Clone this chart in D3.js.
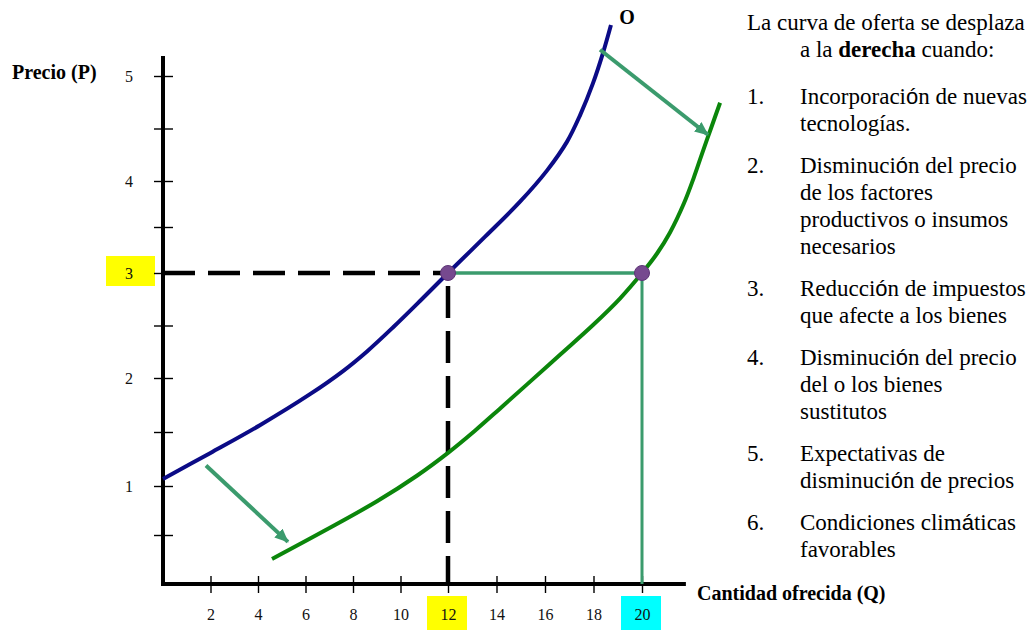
<!DOCTYPE html>
<html><head><meta charset="utf-8">
<script src="https://cdn.jsdelivr.net/npm/d3@7"></script>
<style>body{margin:0;background:#fff}svg{display:block}</style>
</head><body><svg id="c" width="1034" height="634"></svg>
<script>
// ---- data ----
const xTicks = [2,4,6,8,10,12,14,16,18,20];
const yTicks = [0.5,1,1.5,2,2.5,3,3.5,4,4.5,5];
const yLabels = [1,2,3,4,5];
const blueQ = [0,1.98,4.08,6.19,7.58,8.59,9.68,10.82,12,13.53,14.97,16.08,16.91,17.44,17.98,18.39,18.72];
const blueP = [1.065,1.304,1.563,1.85,2.066,2.253,2.481,2.733,3,3.395,3.775,4.099,4.375,4.623,4.932,5.218,5.485];
const greenQ = [4.59,6.91,9.01,10.69,12,13.11,14.14,15.26,16.62,17.98,19.09,20,20.62,21.15,21.73,22.14,22.47,22.85,23.22];
const greenP = [0.255,0.558,0.844,1.095,1.307,1.512,1.716,1.941,2.222,2.505,2.757,3,3.212,3.438,3.758,4.035,4.256,4.505,4.745];
const pointQ = [12,20];
const pointP = [3,3];
const arrowFromQ = [1.81,18.27], arrowFromP = [1.19,5.25];
const arrowToQ = [5.26,22.72], arrowToP = [0.43,4.44];
const axisMaxQ = 21.81, axisMaxP = 5.19;
const highlightY = [3], highlightYColor = ["#ffff00"];
const highlightX = [12,20], highlightXColor = ["#ffff00","#00ffff"];
const curveName = "O";
const yTitle = "Precio (P)";
const xTitle = "Cantidad ofrecida (Q)";
const introLines = ["La curva de oferta se desplaza","a la **derecha** cuando:"];
const itemNumbers = ["1.","2.","3.","4.","5.","6."];
const itemLines = [
  ["Incorporación de nuevas","tecnologías."],
  ["Disminución del precio","de los factores","productivos o insumos","necesarios"],
  ["Reducción de impuestos","que afecte a los bienes"],
  ["Disminución del precio","del o los bienes","sustitutos"],
  ["Expectativas de","disminución de precios"],
  ["Condiciones climáticas","favorables"]
];

// ---- drawing ----
const serif = "'Liberation Serif','Times New Roman',serif";
const sans = "'Liberation Sans',Arial,sans-serif";
const svg = d3.select("#c");
const x = d3.scaleLinear().domain([0,12,20]).range([163,448,642]);
const y = d3.scaleLinear().domain([0,1,2,3,4,5]).range([584,486,378,273,181,76]);

const teal = "#3b9b6d", blue = "#0b0b86", green = "#0b860b", purple = "#76498f";

svg.append("defs").append("marker")
  .attr("id","ah").attr("markerUnits","userSpaceOnUse")
  .attr("viewBox","0 0 14 12").attr("refX",13).attr("refY",6)
  .attr("markerWidth",14).attr("markerHeight",12).attr("orient","auto")
  .append("path").attr("d","M0,0L14,6L0,12Z").attr("fill",teal);

// highlight boxes
highlightY.forEach((v,i)=>{
  svg.append("rect").attr("x",x(0)-57).attr("y",y(v)-17).attr("width",49).attr("height",30)
    .attr("fill",highlightYColor[i]);
});
highlightX.forEach((v,i)=>{
  svg.append("rect").attr("x",x(v)-21).attr("y",y(0)+12).attr("width",40).attr("height",34)
    .attr("fill",highlightXColor[i]);
});

// axes ticks
const gy = svg.append("g").attr("transform",`translate(${x(0)},0)`)
  .call(d3.axisLeft(y).tickValues(yTicks).tickSize(9)
    .tickFormat(d=>yLabels.includes(d)?String(d):""));
gy.select(".domain").remove();
gy.selectAll(".tick line").attr("x1",10).attr("stroke","#000").attr("stroke-width",1.4);
gy.selectAll(".tick text").attr("x",-34).attr("text-anchor","middle")
  .attr("font-family",serif).attr("font-size",16).attr("fill","#111");

const gx = svg.append("g").attr("transform",`translate(0,${y(0)})`)
  .call(d3.axisBottom(x).tickValues(xTicks).tickSize(9).tickFormat(d=>String(d)));
gx.select(".domain").remove();
gx.selectAll(".tick line").attr("y1",-8).attr("stroke","#000").attr("stroke-width",1.4);
gx.selectAll(".tick text").attr("y",30).attr("dy","0.35em")
  .attr("font-family",serif).attr("font-size",16).attr("fill","#111");

// axis lines
svg.append("line").attr("x1",x(0)).attr("x2",x(0)).attr("y1",y(axisMaxP)).attr("y2",y(0)+2)
  .attr("stroke","#000").attr("stroke-width",4);
svg.append("line").attr("x1",x(0)-2).attr("x2",x(axisMaxQ)).attr("y1",y(0)).attr("y2",y(0))
  .attr("stroke","#000").attr("stroke-width",4);

// dashed guides
svg.append("line").attr("x1",x(0)).attr("x2",x(pointQ[0])).attr("y1",y(pointP[0])).attr("y2",y(pointP[0]))
  .attr("stroke","#000").attr("stroke-width",4.5).attr("stroke-dasharray","32,13");
svg.append("line").attr("x1",x(pointQ[0])).attr("x2",x(pointQ[0])).attr("y1",y(pointP[0])).attr("y2",y(0))
  .attr("stroke","#000").attr("stroke-width",4.5).attr("stroke-dasharray","32,13").attr("stroke-dashoffset",32);

// teal guides
svg.append("line").attr("x1",x(pointQ[0])).attr("x2",x(pointQ[1])).attr("y1",y(pointP[0])).attr("y2",y(pointP[1]))
  .attr("stroke",teal).attr("stroke-width",3.5);
svg.append("line").attr("x1",x(pointQ[1])).attr("x2",x(pointQ[1])).attr("y1",y(pointP[1])).attr("y2",y(0))
  .attr("stroke",teal).attr("stroke-width",3);

// curves
const line = d3.line().x(d=>x(d[0])).y(d=>y(d[1])).curve(d3.curveCatmullRom.alpha(0.5));
svg.append("path").attr("d",line(blueQ.map((q,i)=>[q,blueP[i]])))
  .attr("fill","none").attr("stroke",blue).attr("stroke-width",4);
svg.append("path").attr("d",line(greenQ.map((q,i)=>[q,greenP[i]])))
  .attr("fill","none").attr("stroke",green).attr("stroke-width",4);

// arrows
arrowFromQ.forEach((q,i)=>{
  svg.append("line").attr("x1",x(q)).attr("y1",y(arrowFromP[i]))
    .attr("x2",x(arrowToQ[i])).attr("y2",y(arrowToP[i]))
    .attr("stroke",teal).attr("stroke-width",4).attr("marker-end","url(#ah)");
});

// points
svg.selectAll("circle.pt").data(pointQ).join("circle").attr("class","pt")
  .attr("cx",d=>x(d)).attr("cy",(d,i)=>y(pointP[i])).attr("r",7.5)
  .attr("fill",purple).attr("stroke","#5e3577").attr("stroke-width",1);

// labels
const lastB = blueQ.length-1;
svg.append("text").attr("x",x(blueQ[lastB])+16).attr("y",y(blueP[lastB])-1)
  .attr("font-family",serif).attr("font-weight","bold").attr("font-size",20).attr("text-anchor","middle")
  .text(curveName);
svg.append("text").attr("x",12).attr("y",79).attr("font-family",serif).attr("font-weight","bold")
  .attr("font-size",20).text(yTitle);
svg.append("text").attr("x",697).attr("y",600).attr("font-family",serif).attr("font-weight","bold")
  .attr("font-size",20).text(xTitle);

// text block
function rich(sel, str){
  const parts = str.split(/(\*\*[^*]+\*\*|[óá])/).filter(s=>s.length);
  parts.forEach(p=>{
    if(p.startsWith("**")) sel.append("tspan").attr("font-weight","bold").text(p.slice(2,-2));
    else if(p==="ó"||p==="á") sel.append("tspan").attr("font-family",sans).attr("font-size",22).text(p);
    else sel.append("tspan").text(p);
  });
}
const tb = svg.append("g").attr("font-family",serif).attr("font-size",23).attr("fill","#000");
const numX = 747, txtX = 800, lineH = 27, itemGap = 15, introGap = 20;
let yy = 30;
introLines.forEach((l,i)=>{
  const t = tb.append("text").attr("x", i===0?numX:txtX).attr("y",yy);
  rich(t,l);
  yy += lineH;
});
yy += introGap;
itemLines.forEach((lines,k)=>{
  tb.append("text").attr("x",numX).attr("y",yy).text(itemNumbers[k]);
  lines.forEach(l=>{
    const t = tb.append("text").attr("x",txtX).attr("y",yy);
    rich(t,l);
    yy += lineH;
  });
  yy += itemGap;
});
</script>
</body></html>
